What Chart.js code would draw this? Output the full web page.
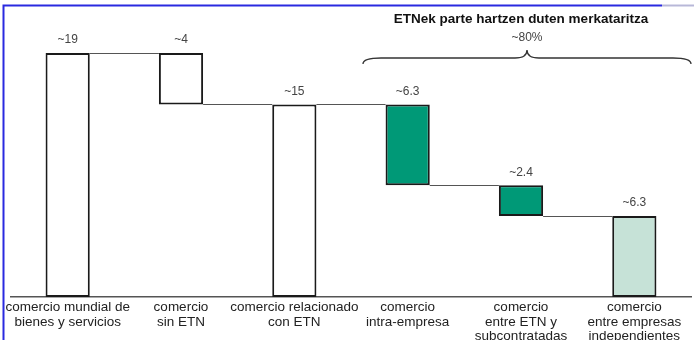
<!DOCTYPE html>
<html>
<head>
<meta charset="utf-8">
<script src="https://cdn.jsdelivr.net/npm/chart.js@4.4.1/dist/chart.umd.min.js"></script>
<style>
  html, body { margin: 0; padding: 0; background: #fff; }
  #wrap { position: relative; width: 694px; height: 340px; }
</style>
</head>
<body>
<div id="wrap"><canvas id="c" width="694" height="340"></canvas></div>
<script>
// ---- data ----
const categories = [
  ['comercio mundial de', 'bienes y servicios'],
  ['comercio', 'sin ETN'],
  ['comercio relacionado', 'con ETN'],
  ['comercio', 'intra-empresa'],
  ['comercio', 'entre ETN y', 'subcontratadas'],
  ['comercio', 'entre empresas', 'independientes']
];
const barStarts = [0, 15, 0, 8.7, 6.3, 0];
const barEnds   = [19, 19, 15, 15, 8.7, 6.3];
const valueLabels = ['~19', '~4', '~15', '~6.3', '~2.4', '~6.3'];
const bracketTitle = 'ETNek parte hartzen duten merkataritza';
const bracketValue = '~80%';

const fills = ['#ffffff', '#ffffff', '#ffffff', '#009977', '#009977', '#c6e2d7'];

const overlay = {
  id: 'overlay',
  beforeDraw(chart) {
    const ctx = chart.ctx;
    ctx.save();
    ctx.fillStyle = '#fff';
    ctx.fillRect(0, 0, chart.width, chart.height);
    // frame
    ctx.strokeStyle = '#2a2ae0';
    ctx.lineWidth = 2;
    ctx.beginPath();
    ctx.moveTo(3.5, 340);
    ctx.lineTo(3.5, 5.5);
    ctx.lineTo(662, 5.5);
    ctx.stroke();
    ctx.strokeStyle = '#b8b8d8';
    ctx.beginPath();
    ctx.moveTo(662, 5.5);
    ctx.lineTo(694, 5.5);
    ctx.stroke();
    ctx.restore();
  },
  afterDatasetsDraw(chart) {
    const ctx = chart.ctx;
    const meta = chart.getDatasetMeta(0);
    const x = chart.scales.x, y = chart.scales.y;
    ctx.save();
    // connectors
    ctx.strokeStyle = '#555';
    ctx.lineWidth = 1;
    for (let i = 0; i < meta.data.length - 1; i++) {
      const a = meta.data[i], b = meta.data[i + 1];
      const yy = Math.round(y.getPixelForValue(barEnds[i + 1])) + 0.5;
      ctx.beginPath();
      ctx.moveTo(a.x + a.width / 2, yy);
      ctx.lineTo(b.x - b.width / 2, yy);
      ctx.stroke();
    }
    // value labels
    ctx.fillStyle = '#444';
    ctx.font = '12px "Liberation Sans", Arial, sans-serif';
    ctx.textAlign = 'center';
    ctx.textBaseline = 'middle';
    meta.data.forEach((bar, i) => {
      ctx.fillText(valueLabels[i], bar.x, y.getPixelForValue(barEnds[i]) - 13);
    });
    // bracket
    const L = x.getPixelForValue(2.5) + 12;
    const R = x.getPixelForValue(5.5);
    const M = (L + R) / 2;
    const yEnd = 64, yLine = 58, yTip = 50;
    ctx.strokeStyle = '#333';
    ctx.lineWidth = 1.3;
    ctx.beginPath();
    ctx.moveTo(L, yEnd);
    ctx.quadraticCurveTo(L, yLine, L + 18, yLine);
    ctx.lineTo(M - 12, yLine);
    ctx.quadraticCurveTo(M, yLine, M, yTip);
    ctx.quadraticCurveTo(M, yLine, M + 12, yLine);
    ctx.lineTo(R - 18, yLine);
    ctx.quadraticCurveTo(R, yLine, R, yEnd);
    ctx.stroke();
    ctx.fillStyle = '#444';
    ctx.font = '12px "Liberation Sans", Arial, sans-serif';
    ctx.fillText(bracketValue, M, 38);
    ctx.fillStyle = '#111';
    ctx.font = 'bold 13.5px "Liberation Sans", Arial, sans-serif';
    ctx.fillText(bracketTitle, M - 6, 19);
    ctx.restore();
  }
};

new Chart(document.getElementById('c'), {
  type: 'bar',
  data: {
    labels: categories,
    datasets: [{
      data: barStarts.map((s, i) => [s, barEnds[i]]),
      backgroundColor: fills,
      borderColor: '#1a1a1a',
      borderWidth: 2,
      borderSkipped: false,
      barPercentage: 0.39,
      categoryPercentage: 1
    }]
  },
  options: {
    responsive: false,
    animation: false,
    devicePixelRatio: 1,
    layout: { padding: { left: 11, right: 3, top: 14.5, bottom: 0 } },
    plugins: { legend: { display: false }, tooltip: { enabled: false }, title: { display: false } },
    scales: {
      x: {
        grid: { display: false, drawTicks: false },
        border: { display: true, color: '#555', width: 1.5 },
        ticks: {
          color: '#222',
          padding: 3,
          maxRotation: 0,
          autoSkip: false,
          font: { family: '"Liberation Sans", Arial, sans-serif', size: 13.5, lineHeight: 1.08 }
        },
        afterFit(s) { s.height = 43; }
      },
      y: {
        display: false,
        min: 0,
        max: 22
      }
    }
  },
  plugins: [overlay]
});
</script>
</body>
</html>
